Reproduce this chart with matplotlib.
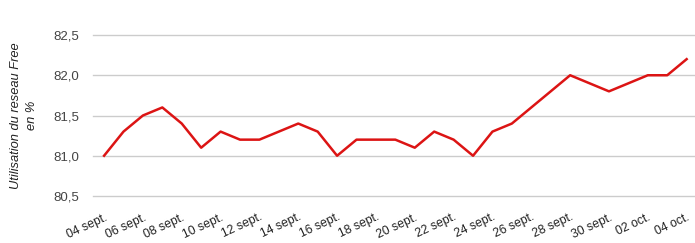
import matplotlib
matplotlib.use('Agg')
import matplotlib.pyplot as plt
import numpy as np

plt.rcParams['font.family'] = ['Liberation Sans', 'DejaVu Sans']

# daily values, 04 sept -> 04 oct
days = ['04 sept.', '05 sept.', '06 sept.', '07 sept.', '08 sept.', '09 sept.',
        '10 sept.', '11 sept.', '12 sept.', '13 sept.', '14 sept.', '15 sept.',
        '16 sept.', '17 sept.', '18 sept.', '19 sept.', '20 sept.', '21 sept.',
        '22 sept.', '23 sept.', '24 sept.', '25 sept.', '26 sept.', '27 sept.',
        '28 sept.', '29 sept.', '30 sept.', '01 oct.', '02 oct.', '03 oct.',
        '04 oct.']
usage = [81.0, 81.3, 81.5, 81.6, 81.4, 81.1, 81.3, 81.2, 81.2, 81.3, 81.4,
         81.3, 81.0, 81.2, 81.2, 81.2, 81.1, 81.3, 81.2, 81.0, 81.3, 81.4,
         81.6, 81.8, 82.0, 81.9, 81.8, 81.9, 82.0, 82.0, 82.2]
yticks = [80.5, 81.0, 81.5, 82.0, 82.5]

x = np.arange(len(days))

fig = plt.figure(figsize=(6.95, 2.43), dpi=100)
ax = fig.add_axes([93 / 695, 47 / 243, 602 / 695, 161 / 243])

ax.plot(x, usage, color='#dc1414', lw=1.8, clip_on=False, zorder=3)

ax.set_xlim(-0.57, 30.43)
ax.set_ylim(80.5, 82.5)
ax.set_yticks(yticks)
ax.set_yticklabels([f'{v:.1f}'.replace('.', ',') for v in yticks],
                   color='#444444', fontsize=9.5)
ax.yaxis.grid(True, color='#cccccc', lw=1)
for gl in ax.get_ygridlines():
    gl.set_clip_on(False)
ax.set_axisbelow(True)

ax.set_xticks(x[::2])
ax.set_xticklabels(days[::2], rotation=25, ha='right', va='top',
                   rotation_mode='anchor', fontsize=8.8, color='#222222')

ax.tick_params(axis='both', length=0)
ax.tick_params(axis='y', pad=10)
ax.tick_params(axis='x', pad=11)
for s in ax.spines.values():
    s.set_visible(False)

ax.set_ylabel('Utilisation du reseau Free\nen %', fontsize=9.3, style='italic',
              color='#222222', labelpad=11, linespacing=1.45)

fig.savefig('out.png', dpi=100)
